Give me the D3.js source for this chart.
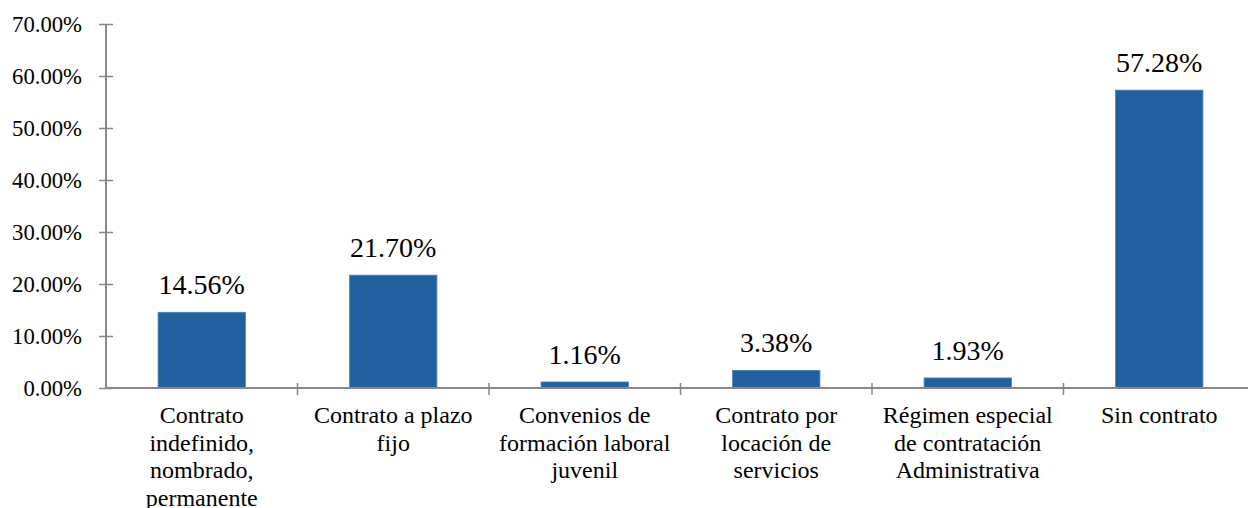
<!DOCTYPE html>
<html>
<head>
<meta charset="utf-8">
<script src="https://cdn.jsdelivr.net/npm/d3@7"></script>
<style>
  html, body { margin: 0; padding: 0; background: #fff; }
  svg { display: block; }
  svg text { font-family: "Liberation Serif", "Times New Roman", Times, serif; }
</style>
</head>
<body>
<svg id="chart" width="1248" height="508"></svg>
<script>
// Tipo de contrato: distribución porcentual
const categories = [
  "Contrato indefinido, nombrado, permanente",
  "Contrato a plazo fijo",
  "Convenios de formación laboral juvenil",
  "Contrato por locación de servicios",
  "Régimen especial de contratación Administrativa",
  "Sin contrato"
];
// Category labels split into the lines shown under each bar
const categoryLines = [
  ["Contrato", "indefinido,", "nombrado,", "permanente"],
  ["Contrato a plazo", "fijo"],
  ["Convenios de", "formación laboral", "juvenil"],
  ["Contrato por", "locación de", "servicios"],
  ["Régimen especial", "de contratación", "Administrativa"],
  ["Sin contrato"]
];
const values = [14.56, 21.70, 1.16, 3.38, 1.93, 57.28];
const yTicks = [0, 10, 20, 30, 40, 50, 60, 70];

const serif = "'Liberation Serif', 'Times New Roman', Times, serif";

const svg = d3.select("#chart");
const margin = { left: 106, top: 24, bottom: 388 };
const plotRight = 106 + 6 * 191.5;

const x = d3.scaleBand()
  .domain(categories)
  .range([margin.left, plotRight])
  .paddingInner(0.544)
  .paddingOuter(0.272);

const y = d3.scaleLinear()
  .domain([0, 70])
  .range([margin.bottom, margin.top]);

const axisColor = "#888888";

// Bars
svg.append("g")
  .selectAll("rect")
  .data(values)
  .join("rect")
  .attr("x", (d, i) => x(categories[i]))
  .attr("y", d => y(d))
  .attr("width", x.bandwidth())
  .attr("height", d => y(0) - y(d))
  .attr("fill", "#2360a0")
  .attr("stroke", "#4f80b8")
  .attr("stroke-width", 0.8);

// Value labels
svg.append("g")
  .selectAll("text")
  .data(values)
  .join("text")
  .attr("x", (d, i) => x(categories[i]) + x.bandwidth() / 2)
  .attr("y", d => y(d) - 18)
  .attr("text-anchor", "middle")
  .attr("font-family", serif)
  .attr("font-size", "28px")
  .attr("fill", "#000")
  .text(d => d.toFixed(2) + "%");

// Y axis
const yAxis = svg.append("g")
  .attr("transform", `translate(${margin.left},0)`)
  .call(d3.axisLeft(y).tickValues(yTicks).tickSize(7).tickPadding(17)
    .tickFormat(d => d.toFixed(2) + "%"));
yAxis.attr("font-family", serif);
yAxis.select(".domain").attr("stroke", axisColor).attr("stroke-width", 2)
  .attr("d", `M0,${y(0)}V${y(70)}`);
yAxis.selectAll(".tick line")
  .attr("stroke", axisColor).attr("stroke-width", 1.5)
  .attr("x1", -7).attr("x2", 7);
yAxis.selectAll(".tick text")
  .attr("font-size", "22.7px")
  .attr("fill", "#000")
  .attr("dy", "0.35em");

// X axis
const xAxis = svg.append("g")
  .attr("transform", `translate(0,${y(0)})`);
xAxis.append("line")
  .attr("x1", margin.left).attr("x2", plotRight)
  .attr("stroke", axisColor).attr("stroke-width", 2);
const boundaries = categories.slice(1).map(c => x(c) - x.step() * x.paddingInner() / 2);
xAxis.selectAll("line.sep")
  .data(boundaries)
  .join("line")
  .attr("class", "sep")
  .attr("x1", d => d).attr("x2", d => d)
  .attr("y1", -5).attr("y2", 7)
  .attr("stroke", axisColor).attr("stroke-width", 1.5);

// Category labels
const labels = svg.append("g")
  .selectAll("text")
  .data(categoryLines)
  .join("text")
  .attr("text-anchor", "middle")
  .attr("font-family", serif)
  .attr("font-size", "24px")
  .attr("fill", "#000")
  .attr("x", (d, i) => x(categories[i]) + x.bandwidth() / 2)
  .attr("y", 423);
labels.selectAll("tspan")
  .data((d, i) => d.map(t => ({ t, cx: x(categories[i]) + x.bandwidth() / 2 })))
  .join("tspan")
  .attr("x", d => d.cx)
  .attr("dy", (d, j) => j === 0 ? 0 : 27.7)
  .text(d => d.t);
</script>
</body>
</html>
